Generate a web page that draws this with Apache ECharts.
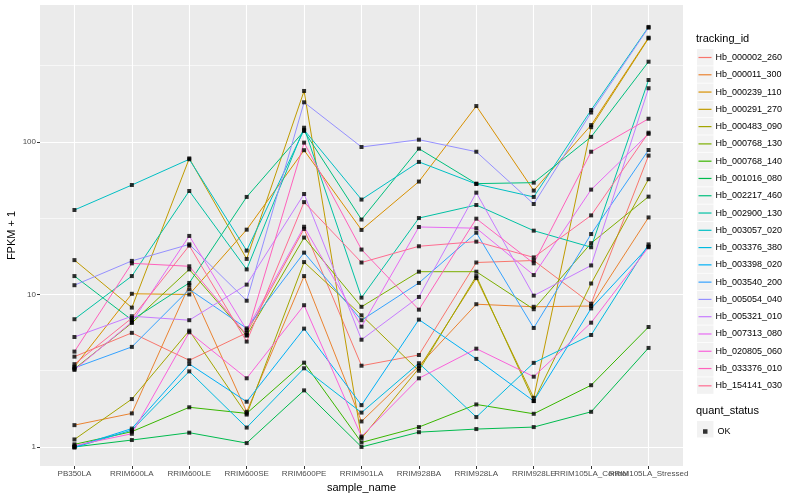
<!DOCTYPE html>
<html><head><meta charset="utf-8">
<script src="https://cdn.jsdelivr.net/npm/echarts@6/dist/echarts.min.js"></script>
<style>html,body{margin:0;padding:0;background:#fff}#c{width:800px;height:500px}</style>
</head><body><div id="c"></div>
<script>
const categories = ['PB350LA','RRIM600LA','RRIM600LE','RRIM600SE','RRIM600PE','RRIM901LA','RRIM928BA','RRIM928LA','RRIM928LE','RRIM105LA_Control','RRIM105LA_Stressed'];
const yTicks = [1, 10, 100];
const yMinor = [3.1623, 31.623, 316.23];
const yMin = 0.75, yMax = 791;

const trackingIds = ['Hb_000002_260','Hb_000011_300','Hb_000239_110','Hb_000291_270','Hb_000483_090','Hb_000768_130','Hb_000768_140','Hb_001016_080','Hb_002217_460','Hb_002900_130','Hb_003057_020','Hb_003376_380','Hb_003398_020','Hb_003540_200','Hb_005054_040','Hb_005321_010','Hb_007313_080','Hb_020805_060','Hb_033376_010','Hb_154141_030'];

const hb_000002_260 = [3.91, 5.6, 3.70, 5.6, 26.9, 3.41, 4.01, 16.2, 16.7, 8.7, 81.4];
const hb_000011_300 = [1.39, 1.66, 11.5, 1.7, 13.2, 1.47, 3.40, 8.63, 8.3, 8.4, 32];
const hb_000239_110 = [3.36, 10.1, 10.0, 26.6, 88.3, 26.5, 55, 172, 48, 129, 483];
const hb_000291_270 = [16.8, 8.2, 78, 17.1, 216, 1.14, 3.28, 12.8, 2.1, 125, 478];
const hb_000483_090 = [1.12, 2.06, 5.79, 1.63, 16.3, 7.3, 3.16, 13.2, 2.0, 11.8, 57];
const hb_000768_130 = [3.25, 6.5, 14.6, 5.37, 23.6, 8.3, 14.1, 14.1, 8.0, 21.7, 43.8];
const hb_000768_140 = [1.04, 1.26, 1.82, 1.66, 3.57, 1.07, 1.35, 1.90, 1.65, 2.54, 6.12];
const hb_001016_080 = [1.0, 1.11, 1.24, 1.06, 2.35, 1.0, 1.25, 1.31, 1.35, 1.70, 4.46];
const hb_002217_460 = [13.2, 6.8, 11.9, 43.6, 118, 31, 90.4, 53.3, 54.1, 108, 336];
const hb_002900_130 = [6.88, 13.2, 47.7, 14.6, 124, 9.53, 31.7, 38.6, 26.2, 20.4, 255];
const hb_003057_020 = [35.8, 52.2, 77, 19.4, 120, 41.9, 74, 53.0, 43.6, 162, 568];
const hb_003376_380 = [0.99, 1.29, 3.13, 1.34, 3.28, 1.68, 3.54, 1.57, 3.56, 5.42, 21.3];
const hb_003398_020 = [1.0, 1.32, 3.5, 1.98, 5.97, 1.88, 6.84, 3.78, 2.0, 8.1, 20.6];
const hb_003540_200 = [3.3, 4.53, 10.8, 5.99, 18.8, 6.78, 11.9, 25.4, 6.03, 24.9, 88.6];
const hb_005054_040 = [11.5, 16.6, 21.3, 9.1, 182, 92.7, 103.5, 86.3, 39.2, 156, 562];
const hb_005321_010 = [5.26, 7.2, 6.78, 11.6, 45.6, 5.05, 9.63, 46.5, 9.82, 15.5, 225];
const hb_007313_080 = [3.2, 6.6, 24.2, 5.85, 27.8, 6.15, 27.7, 27.2, 13.4, 48.7, 113];
const hb_020805_060 = [1.02, 1.22, 5.65, 2.82, 8.5, 1.17, 2.82, 4.41, 2.89, 6.53, 20.4];
const hb_033376_010 = [4.22, 16.0, 15.3, 5.43, 99, 19.7, 7.95, 31.4, 16.0, 86.3, 142];
const hb_154141_030 = [3.49, 7.0, 20.9, 4.91, 40.3, 16.2, 20.7, 22.2, 17.5, 33, 115];

const seriesValues = [hb_000002_260,hb_000011_300,hb_000239_110,hb_000291_270,hb_000483_090,hb_000768_130,hb_000768_140,hb_001016_080,hb_002217_460,hb_002900_130,hb_003057_020,hb_003376_380,hb_003398_020,hb_003540_200,hb_005054_040,hb_005321_010,hb_007313_080,hb_020805_060,hb_033376_010,hb_154141_030];
const palette = ['#F8766D','#EA8331','#D89000','#C09B00','#A3A500','#7CAE00','#39B600','#00BB4E','#00BF7D','#00C1A3','#00BFC4','#00BAE0','#00B0F6','#35A2FF','#9590FF','#C77CFF','#E76BF3','#FA62DB','#FF62BC','#FF6C91'];

const FONT = 'Liberation Sans, Arial, Helvetica, sans-serif';
const LINE_ICON = 'path://M0,0L0,0M0,7.9H13V9.1H0ZM13,17L13,17';
const chart = echarts.init(document.getElementById('c'), null, {renderer: 'canvas'});

const lineSeries = trackingIds.map((id, k) => ({
  name: id, type: 'line', z: 3, symbol: 'none', silent: true, animation: false,
  lineStyle: {color: palette[k], width: 1}, itemStyle: {color: palette[k]},
  data: seriesValues[k].map((v, i) => [i, v])
}));
const points = [];
seriesValues.forEach(arr => arr.forEach((v, i) => points.push([i, v])));

const gridSeries = {
  type: 'scatter', name: '_grid', data: [], z: 1, silent: true, animation: false,
  markLine: {
    z: 1, silent: true, symbol: ['none', 'none'], animation: false, label: {show: false},
    data: [
      ...yMinor.map(v => [{coord: [-0.6, v], lineStyle: {color: '#fff', width: 0.6, type: 'solid'}}, {coord: [10.6, v]}]),
      ...categories.map((c, i) => [{coord: [i, yMin], lineStyle: {color: '#fff', width: 1.1, type: 'solid'}}, {coord: [i, yMax]}])
    ]
  }
};

const boxes = trackingIds.map((id, k) => ({
  type: 'rect', left: 697, top: 49 + k * 17.28, z: -1,
  shape: {width: 16.5, height: 16.5}, style: {fill: '#F2F2F2'}
}));
boxes.push({type: 'rect', left: 697, top: 421, z: -1, shape: {width: 16.5, height: 16.5}, style: {fill: '#F2F2F2'}});

const xLabelStyle = {show: true, margin: 4, fontFamily: FONT, fontSize: 8, color: '#4D4D4D', interval: 0, hideOverlap: false,
  formatter: v => categories[Math.round(v)]};
const xTickStyle = {show: true, length: 3, lineStyle: {color: '#333'}};
const firstIdx = categories.slice(0, 9).map((c, i) => i);

function xAxisDef(values, withName) {
  return {
    type: 'value', min: -0.6, max: 10.6, position: 'bottom', offset: 0,
    name: withName ? 'sample_name' : '', nameLocation: 'middle', nameGap: 14,
    nameTextStyle: {fontFamily: FONT, fontSize: 11, color: '#000'},
    axisLine: {show: false, onZero: false},
    axisTick: Object.assign({customValues: values}, xTickStyle),
    axisLabel: Object.assign({customValues: values}, xLabelStyle),
    splitLine: {show: false}
  };
}

chart.setOption({
  animation: false,
  backgroundColor: '#fff',
  grid: {left: 40, right: 117, top: 5, bottom: 34, containLabel: false, outerBoundsMode: 'none', show: true, backgroundColor: '#EBEBEB', borderWidth: 0},
  title: [
    {text: 'tracking_id', left: 696, top: 33, padding: 0, textStyle: {fontFamily: FONT, fontSize: 11, fontWeight: 'normal', color: '#000'}},
    {text: 'quant_status', left: 696, top: 405, padding: 0, textStyle: {fontFamily: FONT, fontSize: 11, fontWeight: 'normal', color: '#000'}}
  ],
  legend: [
    {data: trackingIds.map(n => ({name: n, icon: LINE_ICON})), orient: 'vertical', left: 698.5, top: 49, padding: 0, itemWidth: 13, itemHeight: 17, itemGap: 0.28,
      selectedMode: false, textStyle: {fontFamily: FONT, fontSize: 9, color: '#000', padding: [0, 0, 0, -1]}},
    {data: ['OK'], orient: 'vertical', left: 703, top: 427, padding: 0, itemWidth: 4.5, itemHeight: 4.5, icon: 'rect',
      selectedMode: false, textStyle: {fontFamily: FONT, fontSize: 9, color: '#000', padding: [0, 0, 0, 5]}}
  ],
  graphic: boxes,
  xAxis: [xAxisDef(firstIdx, true), xAxisDef([9], false), xAxisDef([10], false)],
  yAxis: {
    type: 'log', logBase: 10, min: yMin, max: yMax, position: 'left',
    name: 'FPKM + 1', nameLocation: 'middle', nameGap: 23, nameRotate: 90, nameMoveOverlap: false,
    nameTextStyle: {fontFamily: FONT, fontSize: 11, color: '#000'},
    axisLine: {show: false, onZero: false},
    axisTick: {show: true, length: 3, lineStyle: {color: '#333'}, customValues: yTicks},
    axisLabel: {show: true, margin: 4, fontFamily: FONT, fontSize: 8, color: '#4D4D4D', customValues: yTicks,
      showMinLabel: true, showMaxLabel: true, formatter: v => String(Math.round(v))},
    splitLine: {show: true, lineStyle: {color: '#fff', width: 1.1}}
  },
  series: [
    gridSeries,
    ...lineSeries,
    {name: 'OK', type: 'scatter', z: 4, silent: true, symbol: 'path://M0,0H10V10H0Z', symbolSize: 4, itemStyle: {color: '#000', borderWidth: 0}, data: points}
  ]
});
</script></body></html>
